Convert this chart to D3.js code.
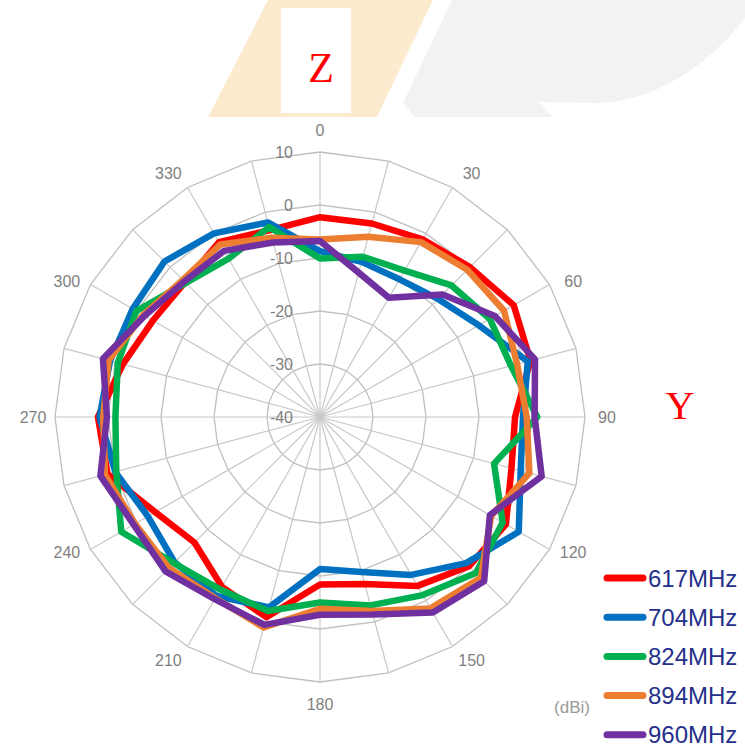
<!DOCTYPE html>
<html>
<head>
<meta charset="utf-8">
<script src="https://cdn.jsdelivr.net/npm/d3@7"></script>
<style>
  html, body { margin: 0; padding: 0; background: #fff; }
  svg { display: block; font-family: "Liberation Sans", Arial, sans-serif; }
</style>
</head>
<body>
<div id="chart"></div>
<script>
// categories (degrees) and tick labels
const angles = [0, 15, 30, 45, 60, 75, 90, 105, 120, 135, 150, 165, 180, 195, 210, 225, 240, 255, 270, 285, 300, 315, 330, 345];
const angleLabels = [0, 30, 60, 90, 120, 150, 180, 210, 240, 270, 300, 330];
const ringTicks = [-40, -30, -20, -10, 0, 10];

// gain in dBi
const s617 = [-2.3, -2.2, -1.3, 0.0, 2.2, 1.1, -3.2, -2.6, 0.5, -0.2, -3.2, -7.4, -8.4, -0.9, -3.0, -6.5, -4.1, 1.5, 1.9, -1.5, -3.6, -4.0, -1.9, -3.5];
const s704 = [-8.7, -9.7, -10.0, -8.5, -5.4, 0.6, -1.7, -0.8, 3.3, -1.0, -5.6, -9.7, -11.3, -2.8, -1.0, -1.2, -2.5, 0.0, 1.6, 1.0, 0.8, 1.5, 0.0, -2.0];
const s824 = [-10.1, -8.7, -8.1, -4.9, -3.0, -2.7, 1.0, -6.0, -0.2, 1.6, -1.2, -3.2, -5.0, -2.1, -2.4, -1.0, 3.3, -0.2, -1.4, -0.5, 0.0, -4.2, -5.5, -2.9];
const s894 = [-6.5, -4.8, -1.9, -0.7, 0.1, -1.5, -1.0, 0.9, -2.7, 2.9, 1.7, -2.1, -3.8, 1.1, -0.5, 0.3, 0.3, 2.0, 0.9, 1.3, -1.5, -3.4, -2.4, -5.0];
const s960 = [-6.8, -11.8, -14.0, -7.3, -1.9, 2.0, 0.5, 3.3, -3.0, 3.8, 2.6, -1.4, -2.7, 0.6, -0.3, 1.2, 0.6, 2.9, 0.2, 2.4, -1.8, -3.8, -3.8, -5.9];

const seriesNames = ['617MHz', '704MHz', '824MHz', '894MHz', '960MHz'];
const seriesColors = ['#ff0000', '#0070c0', '#00b050', '#ed7d31', '#7030a0'];
const seriesValues = [s617, s704, s824, s894, s960];

const W = 745, H = 749;
const cx = 320, cy = 417;
const outerR = 265;

const svg = d3.select('#chart').append('svg')
  .attr('width', W).attr('height', H);

// BACKGROUND DECOR
svg.append('path')
  .attr('d', 'M268,0 L433,0 L377,117 L208,117 Z')
  .attr('fill', '#fdebd0');
svg.append('path')
  .attr('d', 'M452,0 L403,103 L415,117 L553,117 L538,102 L597,103 C650,102 705,70 745,18 L745,0 Z')
  .attr('fill', '#f2f2f2');
svg.append('rect')
  .attr('x', 281).attr('y', 8).attr('width', 70).attr('height', 105)
  .attr('fill', '#fff');
svg.append('text')
  .attr('x', 321).attr('y', 82)
  .attr('text-anchor', 'middle')
  .style('font-family', '"Liberation Serif", "Times New Roman", serif')
  .style('font-size', '42px')
  .attr('fill', '#ff0000')
  .text('Z');
svg.append('text')
  .attr('x', 680).attr('y', 419)
  .attr('text-anchor', 'middle')
  .style('font-family', '"Liberation Serif", "Times New Roman", serif')
  .style('font-size', '40px')
  .attr('fill', '#ff0000')
  .text('Y');

// SCALES
const r = d3.scaleLinear().domain([-40, 10]).range([0, outerR]);
const a = d3.scaleLinear().domain([0, 360]).range([0, 2 * Math.PI]);

const g = svg.append('g').attr('transform', `translate(${cx},${cy})`);

// GRID
const ring = d3.lineRadial()
  .angle(d => a(d[0]))
  .radius(d => r(d[1]))
  .curve(d3.curveLinearClosed);

g.selectAll('path.ring')
  .data(ringTicks.filter(t => t > -40))
  .enter().append('path')
  .attr('class', 'ring')
  .attr('d', t => ring(angles.map(an => [an, t])))
  .attr('fill', 'none')
  .attr('stroke', '#bfbfbf')
  .attr('stroke-width', 1.3);

g.selectAll('line.spoke')
  .data(angles)
  .enter().append('line')
  .attr('class', 'spoke')
  .attr('x1', 0).attr('y1', 0)
  .attr('x2', d => r(10) * Math.sin(a(d)))
  .attr('y2', d => -r(10) * Math.cos(a(d)))
  .attr('stroke', '#c8c8c8')
  .attr('stroke-width', 1.2);

// angle labels - nudged a little toward the horizontal, like excel does
const labAng = d => a(d) + 0.038 * Math.sin(2 * a(d));
const labR = outerR + 22;
g.selectAll('text.ang')
  .data(angleLabels)
  .enter().append('text')
  .attr('class', 'ang')
  .attr('x', d => labR * Math.sin(labAng(d)))
  .attr('y', d => -labR * Math.cos(labAng(d)))
  .attr('dy', '0.35em')
  .attr('text-anchor', 'middle')
  .attr('fill', '#7f7f7f')
  .style('font-size', '16px')
  .text(d => d);

// radial value labels
g.selectAll('text.val')
  .data(ringTicks)
  .enter().append('text')
  .attr('class', 'val')
  .attr('x', -27)
  .attr('y', d => -r(d))
  .attr('dy', '0.35em')
  .attr('text-anchor', 'end')
  .attr('fill', '#7f7f7f')
  .style('font-size', '16px')
  .text(d => d);

// SERIES
const line = d3.lineRadial()
  .angle((d, i) => a(angles[i]))
  .radius(d => r(d))
  .curve(d3.curveLinearClosed);

g.selectAll('path.series')
  .data(seriesValues)
  .enter().append('path')
  .attr('class', 'series')
  .attr('d', d => line(d))
  .attr('fill', 'none')
  .attr('stroke', (d, i) => seriesColors[i])
  .attr('stroke-width', 6.5)
  .attr('stroke-linejoin', 'round');

// LEGEND
const legend = svg.append('g').attr('transform', 'translate(605,578)');
const rowH = 39.2;
const items = legend.selectAll('g.item')
  .data(seriesNames)
  .enter().append('g')
  .attr('class', 'item')
  .attr('transform', (d, i) => `translate(0,${i * rowH})`);
items.append('line')
  .attr('x1', 2).attr('x2', 38).attr('y1', 0).attr('y2', 0)
  .attr('stroke', (d, i) => seriesColors[i])
  .attr('stroke-width', 7)
  .attr('stroke-linecap', 'round');
items.append('text')
  .attr('x', 43).attr('y', 0)
  .attr('dy', '0.36em')
  .attr('fill', '#25308a')
  .style('font-size', '24px')
  .text(d => d);

svg.append('text')
  .attr('x', 572).attr('y', 707)
  .attr('dy', '0.35em')
  .attr('text-anchor', 'middle')
  .attr('fill', '#999')
  .style('font-size', '17px')
  .text('(dBi)');
</script>
</body>
</html>
